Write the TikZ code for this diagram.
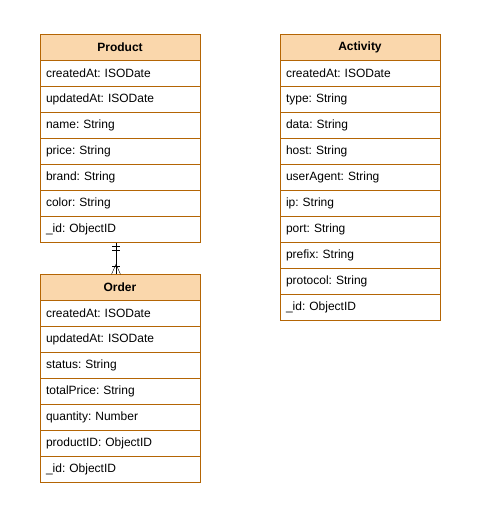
\documentclass[tikz,border=0pt]{standalone}
\usepackage{fontspec}
\setmainfont{Liberation Sans}
\usepackage{tikz}
\usetikzlibrary{arrows}
\definecolor{boxline}{HTML}{B46504}
\definecolor{boxhead}{HTML}{FAD7AC}
\frenchspacing

\begin{document}
\begin{tikzpicture}[x=1pt,y=-1pt,node distance=26pt,
        field/.style={rectangle,draw=boxline,fill=white,minimum height=26pt,
                text width=148pt,inner xsep=6pt,align=left,
                font=\fontsize{12}{14}\selectfont},
        head/.style={field,fill=boxhead,align=center,
                font=\fontsize{12}{14}\selectfont\bfseries}]

        \useasboundingbox (0,0) rectangle (501,515);

        \node[head]   (P00) at (120,47.5) {Product};
        \node[field]  (P01) [below of=P00] {createdAt: ISODate};
        \node[field]  (P02) [below of=P01] {updatedAt: ISODate};
        \node[field]  (P03) [below of=P02] {name: String};
        \node[field]  (P04) [below of=P03] {price: String};
        \node[field]  (P05) [below of=P04] {brand: String};
        \node[field]  (P06) [below of=P05] {color: String};
        \node[field]  (P07) [below of=P06] {\_id: ObjectID};

        \node[head]   (O00) at (120,287.5) {Order};
        \node[field]  (O01) [below of=O00] {createdAt: ISODate};
        \node[field]  (O02) [below of=O01] {updatedAt: ISODate};
        \node[field]  (O03) [below of=O02] {status: String};
        \node[field]  (O04) [below of=O03] {totalPrice: String};
        \node[field]  (O05) [below of=O04] {quantity: Number};
        \node[field]  (O06) [below of=O05] {productID: ObjectID};
        \node[field]  (O07) [below of=O06] {\_id: ObjectID};

        \node[head]   (A00) at (360,47.5) {Activity};
        \node[field]  (A01) [below of=A00] {createdAt: ISODate};
        \node[field]  (A02) [below of=A01] {type: String};
        \node[field]  (A03) [below of=A02] {data: String};
        \node[field]  (A04) [below of=A03] {host: String};
        \node[field]  (A05) [below of=A04] {userAgent: String};
        \node[field]  (A06) [below of=A05] {ip: String};
        \node[field]  (A07) [below of=A06] {port: String};
        \node[field]  (A08) [below of=A07] {prefix: String};
        \node[field]  (A09) [below of=A08] {protocol: String};
        \node[field]  (A10) [below of=A09] {\_id: ObjectID};

        % one product -- many orders
        \draw ([xshift=-4pt]P07.south) -- ([xshift=-4pt]O00.north);
        \draw ([xshift=-8pt,yshift=-3pt]P07.south) -- ++(8,0)
              ([xshift=-8pt,yshift=-7pt]P07.south) -- ++(8,0);
        \draw ([xshift=-8pt,yshift=8pt]O00.north) -- ++(8,0);
        \draw ([xshift=-8.5pt]O00.north) -- ([xshift=-4pt,yshift=10pt]O00.north)
              -- ([xshift=0.5pt]O00.north);
\end{tikzpicture}
\end{document}
